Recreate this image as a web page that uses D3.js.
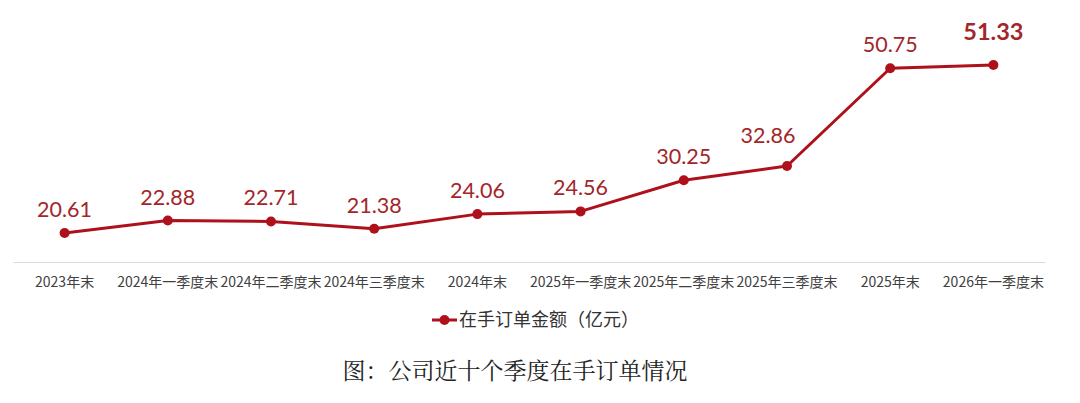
<!DOCTYPE html>
<html>
<head>
<meta charset="utf-8">
<script src="https://cdn.jsdelivr.net/npm/d3@7"></script>
<style>
  body { margin: 0; background: #fff; }
  svg { display: block; }
</style>
</head>
<body>
<svg id="chart" width="1080" height="403"></svg>
<script>
// data
const categories = ['2023年末', '2024年一季度末', '2024年二季度末', '2024年三季度末', '2024年末',
  '2025年一季度末', '2025年二季度末', '2025年三季度末', '2025年末', '2026年一季度末'];
const orders = [20.61, 22.88, 22.71, 21.38, 24.06, 24.56, 30.25, 32.86, 50.75, 51.33];
const seriesName = '在手订单金额（亿元）';
const caption = '图：公司近十个季度在手订单情况';

const width = 1080;
const red = '#AE111B';
const labelRed = '#A3262A';
const cjk = '"Noto Sans CJK SC", "Noto Sans", sans-serif';

const svg = d3.select('#chart');

const x = d3.scaleBand()
  .domain(categories)
  .range([13, 1045]);

const y = d3.scaleLinear()
  .domain([15.3, 55])
  .range([262, 45]);

// axis line + category labels
const xAxis = svg.append('g')
  .attr('transform', `translate(0, 262)`)
  .call(d3.axisBottom(x).tickSize(0).tickPadding(15));
xAxis.select('.domain').attr('stroke', '#d9d9d9').attr('stroke-width', 1);
xAxis.selectAll('text')
  .attr('font-family', cjk)
  .attr('font-size', '14px')
  .attr('fill', '#404040');

const cx = (d, i) => x(categories[i]) + x.bandwidth() / 2;

const line = d3.line()
  .x(cx)
  .y((d) => y(d));

svg.append('path')
  .datum(orders)
  .attr('d', line)
  .attr('fill', 'none')
  .attr('stroke', red)
  .attr('stroke-width', 3)
  .attr('stroke-linejoin', 'round');

svg.append('g')
  .selectAll('circle')
  .data(orders)
  .join('circle')
  .attr('cx', cx)
  .attr('cy', (d) => y(d))
  .attr('r', 5)
  .attr('fill', red);

// value labels, last one bold; the 2025 Q3 label sits up and to the left
const last = orders.length - 1;
const nudge = (i) => i === 7 ? [-19, -7] : [0, 0];
svg.append('g')
  .selectAll('text')
  .data(orders)
  .join('text')
  .attr('x', (d, i) => cx(d, i) + nudge(i)[0])
  .attr('y', (d, i) => y(d) - (i === last ? 25 : 16) + nudge(i)[1])
  .attr('text-anchor', 'middle')
  .attr('font-family', 'Lato, "Open Sans", sans-serif')
  .attr('font-size', (d, i) => i === last ? '23.5px' : '21.5px')
  .attr('font-weight', (d, i) => i === last ? 'bold' : 'normal')
  .attr('fill', labelRed)
  .text((d) => d3.format('.2f')(d));

// legend
const legend = svg.append('g').attr('transform', 'translate(432, 320)');
legend.append('line')
  .attr('x1', 0).attr('x2', 25)
  .attr('stroke', red).attr('stroke-width', 3);
legend.append('circle')
  .attr('cx', 12.5).attr('r', 5)
  .attr('fill', red);
legend.append('text')
  .attr('x', 27)
  .attr('dy', '0.36em')
  .attr('font-family', cjk)
  .attr('font-size', '18px')
  .attr('fill', '#333')
  .text(seriesName);

// caption
svg.append('text')
  .attr('x', width / 2 - 25)
  .attr('y', 379)
  .attr('text-anchor', 'middle')
  .attr('font-family', '"Noto Serif CJK SC", "Noto Sans CJK SC", serif')
  .attr('font-size', '23px')
  .attr('fill', '#222')
  .text(caption);
</script>
</body>
</html>
